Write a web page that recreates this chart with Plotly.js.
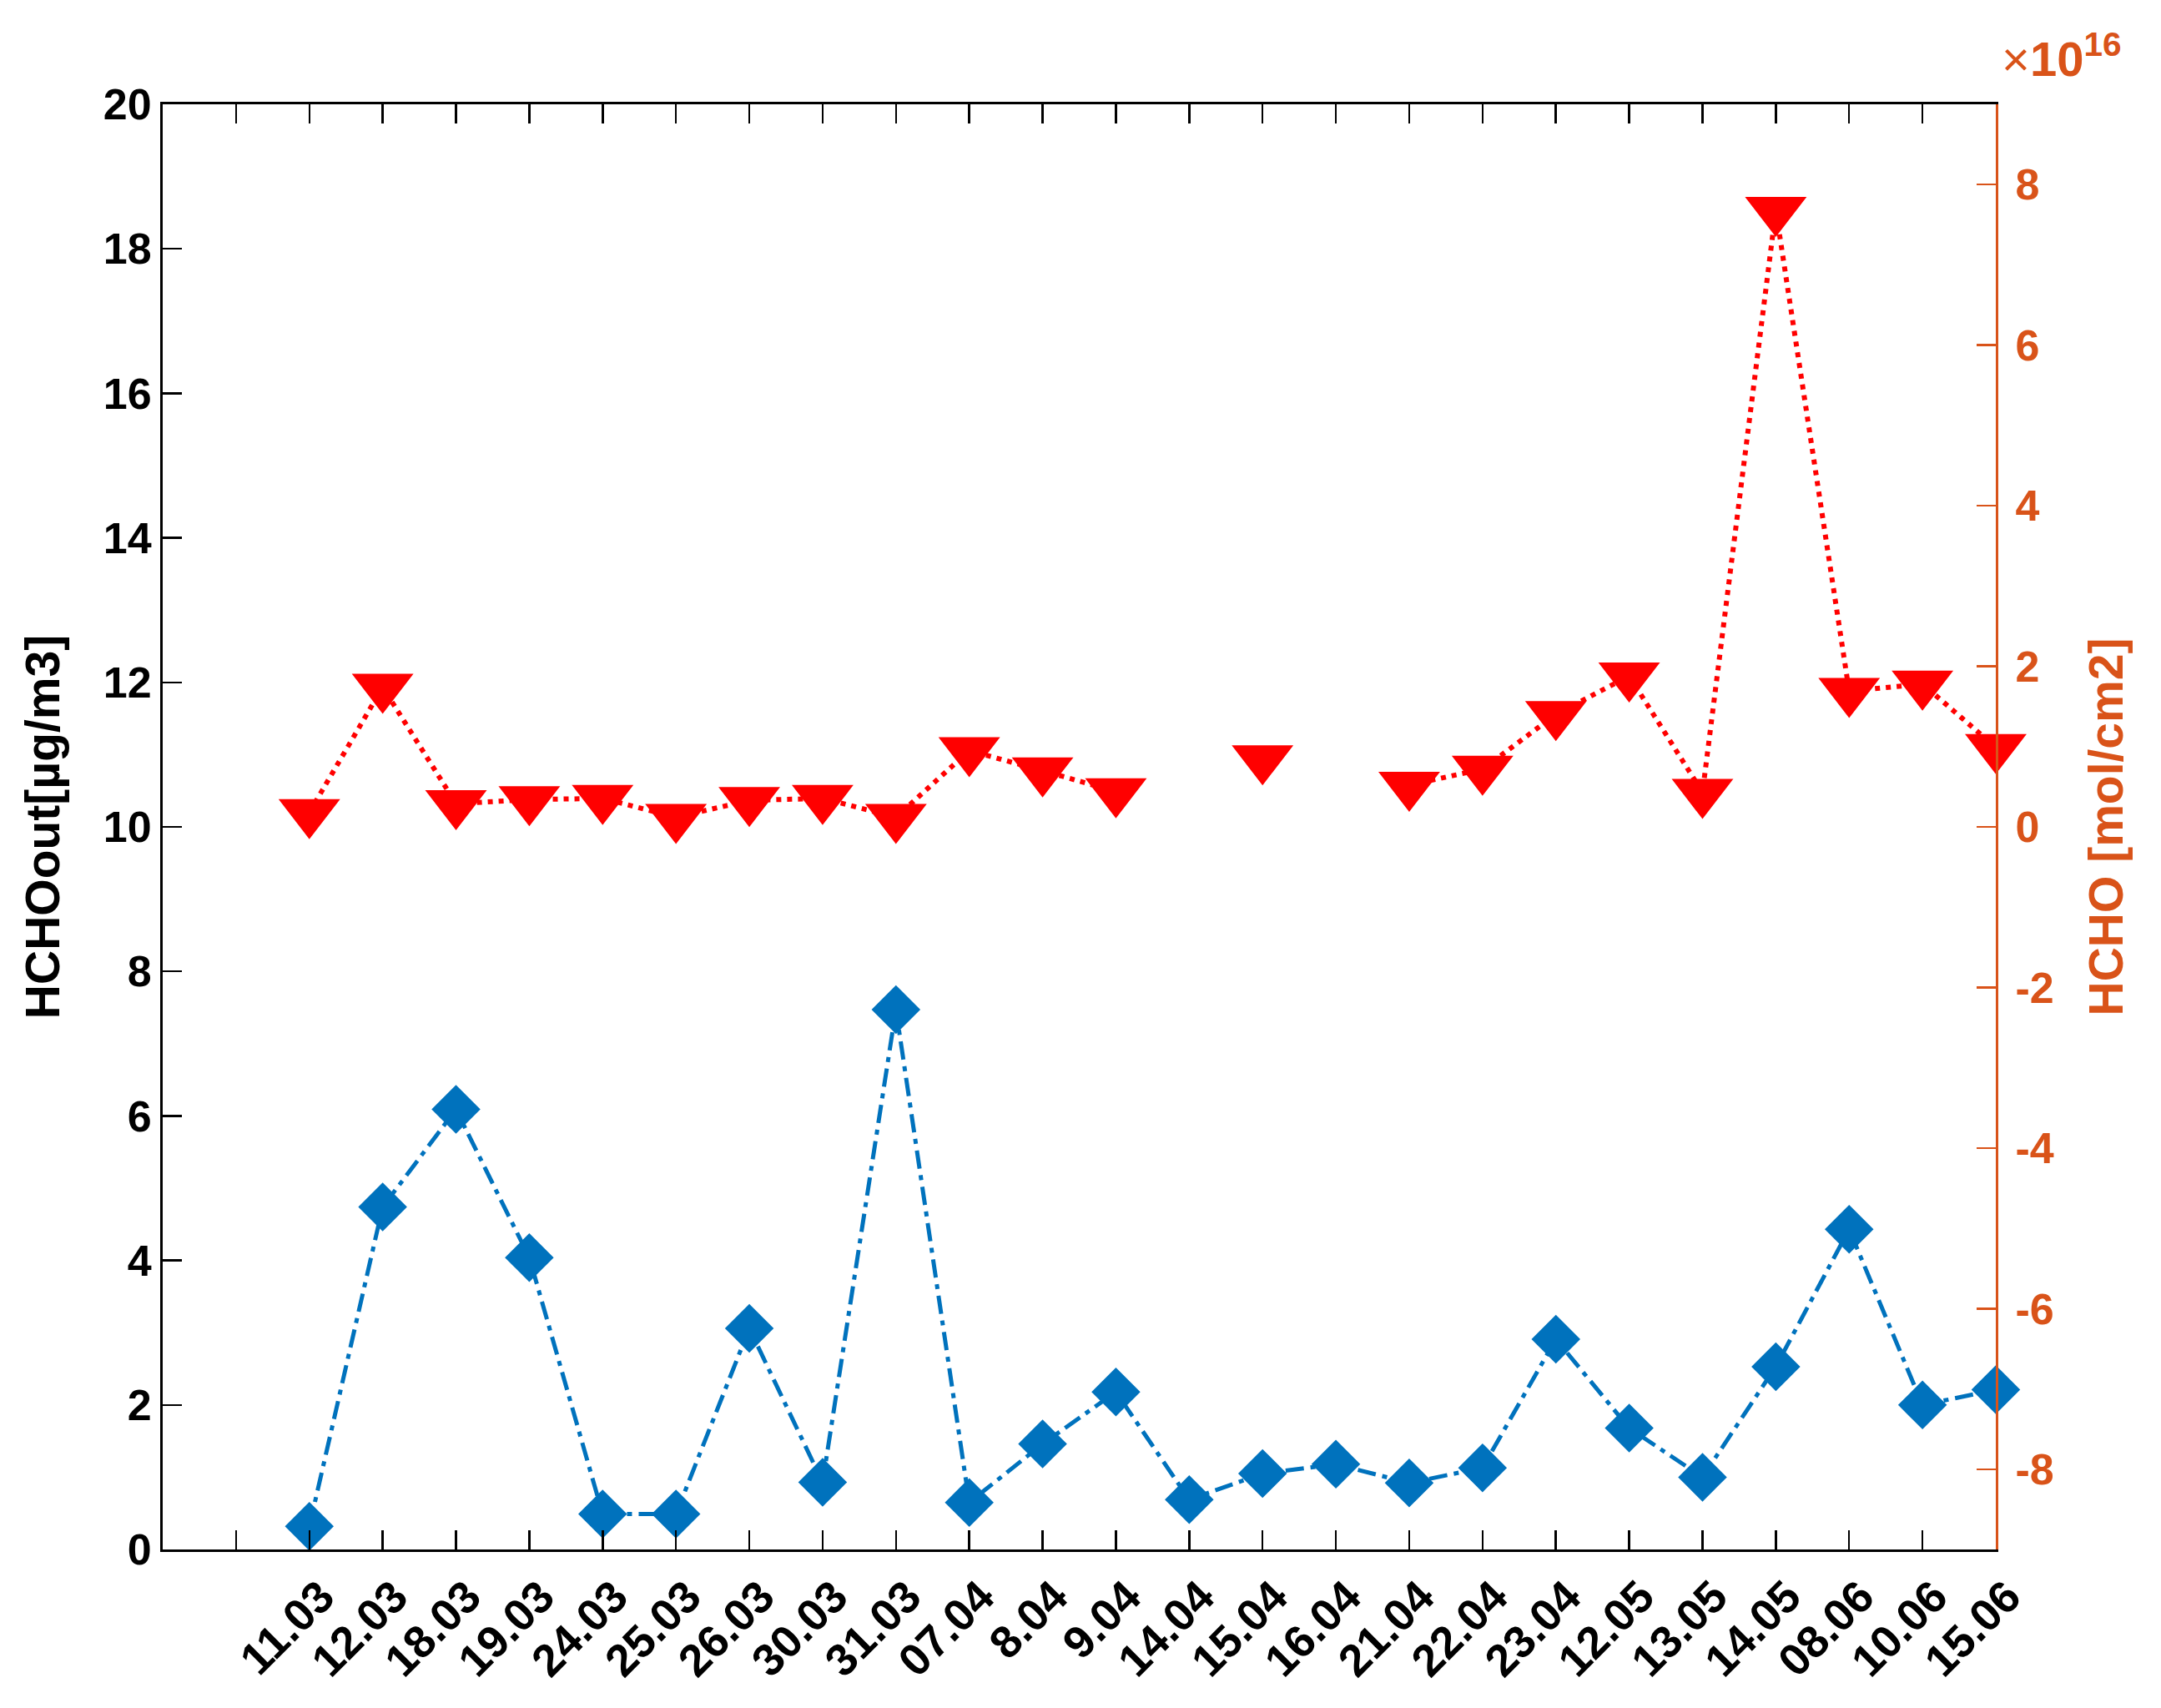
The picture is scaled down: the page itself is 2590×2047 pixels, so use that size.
<!DOCTYPE html>
<html>
<head>
<meta charset="utf-8">
<script src="https://cdn.plot.ly/plotly-3.0.1.min.js"></script>
<style>html,body{margin:0;padding:0;background:#fff;}#chart{width:2590px;height:2047px;}</style>
</head>
<body>
<div id="chart"></div>
<script>
// Category labels (dates, dd.mm)
const dates = ['11.03','12.03','18.03','19.03','24.03','25.03','26.03','30.03','31.03','07.04','8.04','9.04','14.04','15.04','16.04','21.04','22.04','23.04','12.05','13.05','14.05','08.06','10.06','15.06'];
// Left axis: HCHOout [µg/m3]
const hchoOut = [0.32,4.74,6.09,4.04,0.49,0.49,3.06,0.93,7.47,0.65,1.46,2.18,0.69,1.05,1.18,0.92,1.13,2.91,1.68,1.00,2.53,4.43,2.00,2.21];
// Right axis: HCHO column [mol/cm2], in units of 1e16 (null = no data)
const hchoCol = [0.18,1.74,0.29,0.34,0.355,0.12,0.33,0.355,0.12,0.95,0.70,0.44,null,0.85,null,0.52,0.72,1.40,1.88,0.43,7.68,1.69,1.78,0.99];
const hchoColExponent = 16;
// Axis ticks
const leftTicks = [0,2,4,6,8,10,12,14,16,18,20];
const rightTicks = [-8,-6,-4,-2,0,2,4,6,8];
const rightTickText = ['-8','-6','-4','-2','0','2','4','6','8'];

const xPos = dates.map((d,i)=>i+1);

const ORANGE = '#D95319';
const FONT = 'Liberation Sans, Arial, sans-serif';

const traces = [
  {
    x: xPos, y: hchoOut, type: 'scatter', mode: 'lines+markers', yaxis: 'y',
    line: {color: '#0072BD', width: 5, dash: '22px,8px,6px,8px'},
    marker: {symbol: 'diamond', size: 45, color: '#0072BD', line: {width: 0}},
    showlegend: false, cliponaxis: false
  },
  {
    x: xPos, y: hchoCol, type: 'scatter', mode: 'lines+markers', yaxis: 'y2',
    connectgaps: false,
    line: {color: '#FF0000', width: 6, dash: '6px,7px'},
    marker: {symbol: 'triangle-down', size: 64, color: '#FF0000', line: {width: 0}},
    showlegend: false, cliponaxis: false
  }
];

const layout = {
  width: 2590, height: 2047,
  margin: {l: 195, r: 198, t: 125, b: 190, pad: 0},
  paper_bgcolor: '#fff', plot_bgcolor: '#fff',
  font: {family: FONT, size: 50, color: '#000', weight: 'bold'},
  xaxis: {
    range: [-1, 24], tickmode: 'array', tickvals: xPos, ticktext: dates,
    tickangle: -45, ticks: 'inside', ticklen: 23, tickwidth: 2.5, tickcolor: '#000',
    ticklabelshift: 14,
    minor: {tickmode: 'array', tickvals: [0], ticks: 'inside', ticklen: 23, tickwidth: 2.5, tickcolor: '#000', showgrid: false},
    showline: true, linecolor: '#000', linewidth: 3, mirror: 'ticks',
    showgrid: false, zeroline: false,
    tickfont: {family: FONT, size: 54, color: '#000', weight: 'bold'}
  },
  yaxis: {
    range: [0, 20], tickmode: 'array', tickvals: leftTicks,
    ticks: 'inside', ticklen: 23, tickwidth: 2.5, tickcolor: '#000',
    showline: true, linecolor: '#000', linewidth: 3,
    showgrid: false, zeroline: false,
    tickfont: {family: FONT, size: 52, color: '#000', weight: 'bold'},
    title: {text: 'HCHOout[µg/m3]', font: {family: FONT, size: 57, color: '#000', weight: 'bold'}, standoff: 34}
  },
  yaxis2: {
    overlaying: 'y', side: 'right',
    range: [-9, 9], tickmode: 'array', tickvals: rightTicks, ticktext: rightTickText,
    ticks: 'inside', ticklen: 23, tickwidth: 2.5, tickcolor: ORANGE,
    ticklabelstandoff: 10,
    showline: true, linecolor: ORANGE, linewidth: 3,
    showgrid: false, zeroline: false,
    tickfont: {family: FONT, size: 52, color: ORANGE, weight: 'bold'},
    title: {text: 'HCHO [mol/cm2]', font: {family: FONT, size: 57, color: ORANGE, weight: 'bold'}, standoff: 44}
  },
  annotations: [{
    xref: 'paper', yref: 'paper', x: 1.0023, y: 1.034, xanchor: 'left', yanchor: 'middle',
    text: '<span style="font-weight:normal">×</span>10<sup>' + hchoColExponent + '</sup>', showarrow: false,
    font: {family: FONT, size: 58, color: ORANGE, weight: 'bold'}
  }]
};

Plotly.newPlot('chart', traces, layout, {staticPlot: true});
</script>
</body>
</html>
